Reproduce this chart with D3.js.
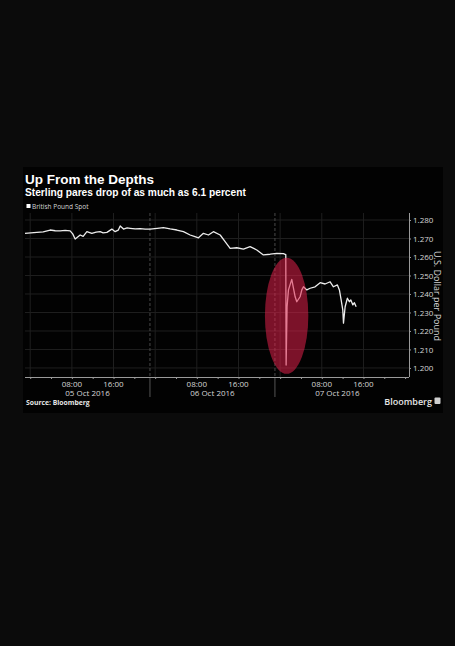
<!DOCTYPE html>
<html>
<head>
<meta charset="utf-8">
<script src="https://cdn.jsdelivr.net/npm/d3@7"></script>
<style>
  html, body { margin: 0; padding: 0; background: #0b0b0b; }
  svg { display: block; }
</style>
</head>
<body>
<div id="wrapper"></div>
<script>

// data (GBP/USD spot)

const times = [
  "2016-10-04 23:00", "2016-10-05 01:17", "2016-10-05 02:30", "2016-10-05 03:50",
  "2016-10-05 04:48", "2016-10-05 05:45", "2016-10-05 06:43", "2016-10-05 07:40",
  "2016-10-05 08:10", "2016-10-05 08:38", "2016-10-05 09:36", "2016-10-05 10:10",
  "2016-10-05 10:53", "2016-10-05 11:50", "2016-10-05 12:40", "2016-10-05 13:26",
  "2016-10-05 14:00", "2016-10-05 14:44", "2016-10-05 15:41", "2016-10-05 16:19",
  "2016-10-05 16:54", "2016-10-05 17:17", "2016-10-05 17:55", "2016-10-05 18:37",
  "2016-10-05 19:12", "2016-10-05 20:10", "2016-10-05 21:07", "2016-10-05 22:05",
  "2016-10-05 23:02", "2016-10-06 00:23", "2016-10-06 01:35", "2016-10-06 02:53",
  "2016-10-06 04:10", "2016-10-06 05:26", "2016-10-06 06:43", "2016-10-06 07:30",
  "2016-10-06 08:19", "2016-10-06 09:16", "2016-10-06 10:14", "2016-10-06 11:11",
  "2016-10-06 12:29", "2016-10-06 13:26", "2016-10-06 14:24", "2016-10-06 15:41",
  "2016-10-06 16:57", "2016-10-06 18:14", "2016-10-06 19:31", "2016-10-06 20:47",
  "2016-10-06 22:05", "2016-10-06 23:22", "2016-10-07 00:38", "2016-10-07 01:05",
  "2016-10-07 01:09", "2016-10-07 01:20", "2016-10-07 01:36", "2016-10-07 02:14",
  "2016-10-07 02:53", "2016-10-07 03:12", "2016-10-07 03:50", "2016-10-07 04:10",
  "2016-10-07 04:29", "2016-10-07 05:07", "2016-10-07 05:46", "2016-10-07 06:43",
  "2016-10-07 07:41", "2016-10-07 08:38", "2016-10-07 09:36", "2016-10-07 10:14",
  "2016-10-07 11:00", "2016-10-07 11:23", "2016-10-07 11:43", "2016-10-07 12:02",
  "2016-10-07 12:10", "2016-10-07 12:29", "2016-10-07 12:55", "2016-10-07 13:18",
  "2016-10-07 13:35", "2016-10-07 13:58", "2016-10-07 14:16", "2016-10-07 14:36"
];

const spot = [
  1.2728, 1.2733, 1.2736, 1.2746,
  1.2742, 1.2741, 1.2744, 1.2741,
  1.2725, 1.2697, 1.2719, 1.2712,
  1.2737, 1.2728, 1.2735, 1.2737,
  1.2730, 1.2733, 1.2751, 1.2737,
  1.2745, 1.2768, 1.2751, 1.2757,
  1.2755, 1.2752, 1.2754, 1.2751,
  1.2751, 1.2755, 1.2759, 1.2752,
  1.2746, 1.2737, 1.2719, 1.2712,
  1.2704, 1.2728, 1.2719, 1.2737,
  1.2719, 1.2683, 1.2647, 1.2650,
  1.2643, 1.2656, 1.2638, 1.2611,
  1.2615, 1.2620, 1.2618, 1.2613,
  1.2016, 1.2331, 1.2422, 1.2479,
  1.2385, 1.2358, 1.2385, 1.2422,
  1.2439, 1.2422, 1.2431, 1.2439,
  1.2461, 1.2454, 1.2466, 1.2439,
  1.2449, 1.2422, 1.2368, 1.2314,
  1.2242, 1.2331, 1.2377, 1.2358,
  1.2368, 1.2341, 1.2353, 1.2331
];

const yTicks = [1.200, 1.210, 1.220, 1.230, 1.240, 1.250, 1.260, 1.270, 1.280];
const days = ["2016-10-05", "2016-10-06", "2016-10-07"];
const dayLabels = ["05 Oct 2016", "06 Oct 2016", "07 Oct 2016"];
const hourLabels = ["08:00", "16:00"];

const title = "Up From the Depths";
const subtitle = "Sterling pares drop of as much as 6.1 percent";
const seriesName = "British Pound Spot";
const yTitle = "U.S. Dollar per Pound";

const parseTime = d3.timeParse("%Y-%m-%d %H:%M");
const data = times.map((t, i) => ({ date: parseTime(t), value: spot[i] }));
const xAccessor = d => d.date;
const yAccessor = d => d.value;

// dimensions

const dms = {
  width: 455,
  height: 646,
  panel: { x: 23, y: 167, w: 420, h: 246 },
  plot: { left: 25, right: 409, top: 213, bottom: 377 }
};

const svg = d3.select("#wrapper")
  .append("svg")
    .attr("width", dms.width)
    .attr("height", dms.height)
    .style("font-family", "'Open Sans', 'Liberation Sans', sans-serif");

svg.append("rect")
  .attr("width", dms.width)
  .attr("height", dms.height)
  .attr("fill", "#0b0b0b");

svg.append("rect")
  .attr("x", dms.panel.x)
  .attr("y", dms.panel.y)
  .attr("width", dms.panel.w)
  .attr("height", dms.panel.h)
  .attr("fill", "#020202");

// scales

const xScale = d3.scaleTime()
  .domain([parseTime("2016-10-04 23:00"), parseTime("2016-10-08 00:45")])
  .range([dms.plot.left, dms.plot.right]);

const yScale = d3.scaleLinear()
  .domain([1.1951, 1.2838])
  .range([dms.plot.bottom, dms.plot.top]);

// grid

const grid = svg.append("g");

grid.selectAll(".hgrid")
  .data(yTicks)
  .join("line")
    .attr("x1", dms.plot.left)
    .attr("x2", dms.plot.right)
    .attr("y1", d => yScale(d))
    .attr("y2", d => yScale(d))
    .attr("stroke", "#1f1f1f")
    .attr("stroke-width", 1);

const vHours = d3.timeHour.every(8).range(parseTime("2016-10-05 00:00"), parseTime("2016-10-08 00:00"));

grid.selectAll(".vgrid")
  .data(vHours)
  .join("line")
    .attr("x1", d => xScale(d))
    .attr("x2", d => xScale(d))
    .attr("y1", dms.plot.top)
    .attr("y2", dms.plot.bottom)
    .attr("stroke", "#1f1f1f")
    .attr("stroke-width", 1);

// day separators at 23:00
const separators = days.slice(0, 2).map(d => parseTime(d + " 23:00"));

grid.selectAll(".sep")
  .data(separators)
  .join("line")
    .attr("x1", d => xScale(d))
    .attr("x2", d => xScale(d))
    .attr("y1", dms.plot.top)
    .attr("y2", dms.plot.bottom)
    .attr("stroke", "#4a4a4a")
    .attr("stroke-dasharray", "3,2");

grid.selectAll(".sepBelow")
  .data(separators)
  .join("line")
    .attr("x1", d => xScale(d))
    .attr("x2", d => xScale(d))
    .attr("y1", dms.plot.bottom)
    .attr("y2", dms.plot.bottom + 20)
    .attr("stroke", "#555");

// line

const lineGenerator = d3.line()
  .x(d => xScale(xAccessor(d)))
  .y(d => yScale(yAccessor(d)));

svg.append("path")
  .attr("d", lineGenerator(data))
  .attr("fill", "none")
  .attr("stroke", "#ececec")
  .attr("stroke-width", 1.3)
  .attr("stroke-linejoin", "round");

// highlight of the flash crash
const crash = data.find(d => d.value === d3.min(spot));
svg.append("ellipse")
  .attr("cx", xScale(crash.date) + 0.5)
  .attr("cy", (yScale(1.2613) + yScale(1.2016)) / 2 + 6)
  .attr("rx", 21.7)
  .attr("ry", 58)
  .attr("fill", "#e0204a")
  .attr("fill-opacity", 0.55);

// axes

const yAxis = svg.append("g")
  .attr("transform", `translate(${dms.plot.right},0)`)
  .call(d3.axisRight(yScale).tickValues(yTicks).tickFormat(d3.format(".3f")).tickSize(2).tickPadding(2));

yAxis.select(".domain")
  .attr("d", `M0.5,${dms.plot.top}V${dms.plot.bottom}`)
  .attr("stroke", "#9a9a9a");
yAxis.selectAll(".tick line").attr("stroke", "#9a9a9a");
yAxis.selectAll(".tick text")
  .attr("fill", "#d6d6d6")
  .style("font-size", "8px")
  .style("font-family", "'Open Sans', sans-serif");

const xTickDates = d3.timeHour.every(4).range(parseTime("2016-10-05 00:00"), parseTime("2016-10-08 00:30"));

const xAxis = svg.append("g")
  .attr("transform", `translate(0,${dms.plot.bottom})`)
  .call(d3.axisBottom(xScale).tickValues(xTickDates).tickSize(2).tickFormat(""));

xAxis.select(".domain")
  .attr("d", `M${dms.plot.left},0.5H${dms.plot.right}`)
  .attr("stroke", "#9a9a9a");
xAxis.selectAll(".tick line").attr("stroke", "#9a9a9a");

const hourTicks = days.flatMap(d => hourLabels.map(h => ({ date: parseTime(d + " " + h), label: h })));

svg.selectAll(".hourLabel")
  .data(hourTicks)
  .join("text")
    .attr("x", d => xScale(d.date))
    .attr("y", dms.plot.bottom + 9.5)
    .attr("text-anchor", "middle")
    .attr("fill", "#d6d6d6")
    .style("font-size", "8px")
    .text(d => d.label);

const dayCenters = days.map((d, i) => {
  const start = d3.timeHour.offset(parseTime(d + " 00:00"), -1);
  const end = d3.timeHour.offset(start, 24);
  return { mid: new Date((+start + +end) / 2), label: dayLabels[i] };
});

svg.selectAll(".dayLabel")
  .data(dayCenters)
  .join("text")
    .attr("x", d => xScale(d.mid))
    .attr("y", dms.plot.bottom + 19)
    .attr("text-anchor", "middle")
    .attr("fill", "#d6d6d6")
    .style("font-size", "8px")
    .text(d => d.label);

svg.append("text")
  .attr("transform", `translate(434,296) rotate(90)`)
  .attr("text-anchor", "middle")
  .attr("fill", "#d6d6d6")
  .style("font-size", "9px")
  .text(yTitle);

// titles

svg.append("text")
  .attr("x", 25)
  .attr("y", 183.5)
  .attr("fill", "#ffffff")
  .style("font-family", "'Liberation Sans', Arial, sans-serif")
  .style("font-size", "13.5px")
  .style("font-weight", "bold")
  .text(title);

svg.append("text")
  .attr("x", 25)
  .attr("y", 196)
  .attr("fill", "#ffffff")
  .style("font-family", "'Liberation Sans', Arial, sans-serif")
  .style("font-size", "10.2px")
  .style("font-weight", "bold")
  .text(subtitle);

svg.append("rect")
  .attr("x", 26.5)
  .attr("y", 204)
  .attr("width", 4)
  .attr("height", 4)
  .attr("fill", "#ffffff");

svg.append("text")
  .attr("x", 32)
  .attr("y", 208.5)
  .attr("fill", "#d6d6d6")
  .style("font-size", "6.5px")
  .text(seriesName);

// footer

svg.append("text")
  .attr("x", 26)
  .attr("y", 404.5)
  .attr("fill", "#e6e6e6")
  .style("font-size", "6.8px")
  .style("font-weight", "bold")
  .text("Source: Bloomberg");

svg.append("text")
  .attr("x", 432)
  .attr("y", 404.5)
  .attr("text-anchor", "end")
  .attr("fill", "#e6e6e6")
  .style("font-size", "9px")
  .style("font-weight", "600")
  .text("Bloomberg");

svg.append("rect")
  .attr("x", 434.5)
  .attr("y", 397.5)
  .attr("width", 6)
  .attr("height", 6.5)
  .attr("rx", 1)
  .attr("fill", "#cfcfcf");

</script>
</body>
</html>
